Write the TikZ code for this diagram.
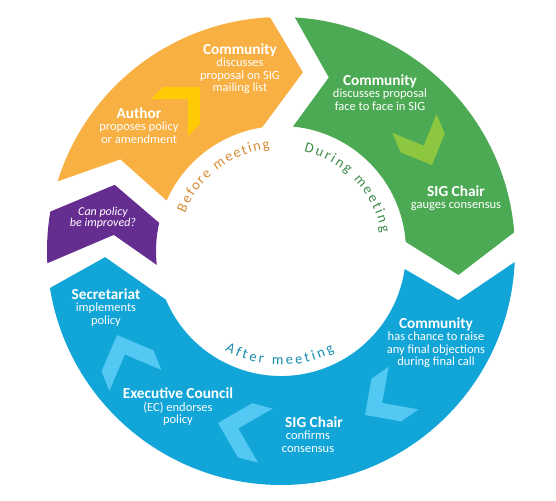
\documentclass[tikz,border=0pt]{standalone}
\usepackage{fontspec}
\setmainfont{Carlito}
\usetikzlibrary{positioning,decorations.text}

\definecolor{orangec}{RGB}{248,176,66}
\definecolor{yellowc}{RGB}{255,203,5}
\definecolor{greenc}{RGB}{77,170,84}
\definecolor{limec}{RGB}{141,198,63}
\definecolor{bluec}{RGB}{18,165,216}
\definecolor{lightbluec}{RGB}{82,200,242}
\definecolor{purplec}{RGB}{102,45,145}
\definecolor{beforec}{RGB}{214,140,52}
\definecolor{duringc}{RGB}{62,140,75}
\definecolor{afterc}{RGB}{25,140,175}

\tikzset{
  headtext/.style={font=\bfseries\fontsize{15.3}{15}\selectfont, text=white, inner sep=0pt,
    text height=10pt, text depth=3pt},
  bodytext/.style={font=\fontsize{12.5}{12.7}\selectfont, text=white, align=center, inner sep=0pt,
    execute at begin node=\rule{0pt}{9pt}},
  stagetext/.style={decorate,
    decoration={text along path, text align=fit to path, text color=#1}},
}

% chevron: colour, apex, rotation, arm, thickness
\newcommand{\chev}[5]{\fill[#1, shift={#2}, rotate=#3] (0,0) -- (-#4,#4) -- ({-#4-#5},#4) -- (-#5,0) -- ({-#4-#5},-#4) -- (-#4,-#4) -- cycle;}

\begin{document}
\begin{tikzpicture}[x=1pt, y=1pt]
    \useasboundingbox (-281,-249) rectangle (275,251);

    % Ring segments
    \fill[orangec] (162.7:234pt) arc[start angle=162.7, end angle=92.7, radius=234pt]
        -- (83:180pt) -- (98.7:125pt) arc[start angle=98.7, end angle=156.2, radius=125pt]
        -- (150.3:185pt) -- cycle;
    \fill[greenc] (86.6:234pt) arc[start angle=86.6, end angle=4.6, radius=234pt]
        -- (-7.7:179pt) -- (4.2:125pt) arc[start angle=4.2, end angle=84.5, radius=125pt]
        -- (74.6:180pt) -- cycle;
    \fill[bluec] (-2.7:234pt) arc[start angle=-2.7, end angle=-170.9, radius=234pt]
        -- (-178:176pt) -- (-157.1:125pt) arc[start angle=-157.1, end angle=-8.3, radius=125pt]
        -- (-15.5:184pt) -- cycle;
    \fill[purplec] (183:234pt) arc[start angle=183, end angle=170.3, radius=234pt]
        -- (158.3:179pt) -- (167:125pt) arc[start angle=167, end angle=186.4, radius=125pt]
        -- (174.5:168pt) -- cycle;

    % Chevrons
    \chev{yellowc}{(-81,164)}{45}{26}{17}
    \chev{limec}{(151,86)}{-67}{24}{21}
    \chev{lightbluec}{(84,-164)}{215}{26}{21}
    \chev{lightbluec}{(-63,-172)}{165}{28}{21}
    \chev{lightbluec}{(-164,-84)}{112}{28}{21}

    % Stage labels
    \fontsize{14.5}{14.5}\selectfont
    \path[stagetext=beforec, decoration={text={Before meeting}}]
        (158.5:103pt) arc[start angle=158.5, end angle=96.2, radius=103pt];
    \path[stagetext=duringc, decoration={text={During meeting}}]
        (77:102pt) arc[start angle=77, end angle=10.3, radius=102pt];
    \path[stagetext=afterc, decoration={text={After meeting}}]
        (240.5:114pt) arc[start angle=240.5, end angle=298, radius=114pt];

    % Before meeting
    \node[headtext] (author) at (-142,136) {Author};
    \node[bodytext, below=0pt of author] (authortext) {proposes policy\\or amendment};
    \node[headtext] (commlist) at (-41,200) {Community};
    \node[bodytext, below=0pt of commlist] (commlisttext) {discusses\\proposal on SIG\\mailing list};

    % During meeting
    \node[headtext] (commsig) at (99,169) {Community};
    \node[bodytext, below=0pt of commsig] (commsigtext) {discusses proposal\\face to face in SIG};
    \node[headtext] (chairgauge) at (175,58) {SIG Chair};
    \node[bodytext, below=0pt of chairgauge] (chairgaugetext) {gauges consensus};

    % After meeting
    \node[headtext] (commcall) at (155,-74) {Community};
    \node[bodytext, below=0pt of commcall] (commcalltext) {has chance to raise\\any final objections\\during final call};
    \node[headtext] (chairconf) at (33,-173) {SIG Chair};
    \node[bodytext, below=0pt of chairconf, xshift=-6pt] (chairconftext) {confirms\\consensus};
    \node[headtext] (council) at (-103,-144) {Executive Council};
    \node[bodytext, below=0pt of council] (counciltext) {(EC) endorses\\policy};
    \node[headtext] (secret) at (-175,-45) {Secretariat};
    \node[bodytext, below=0pt of secret] (secrettext) {implements\\policy};

    % Review
    \node[bodytext, font=\itshape\fontsize{12}{11.5}\selectfont] (improve) at (-178,33) {Can policy\\be improved?};
\end{tikzpicture}
\end{document}
